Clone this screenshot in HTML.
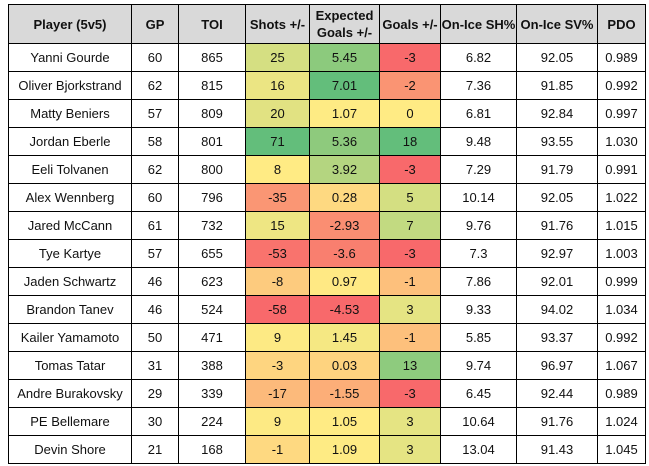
<!DOCTYPE html><html><head><style>
body{margin:0;background:#fff;font-family:"Liberation Sans",sans-serif;}
table{position:absolute;left:8px;top:4px;border-collapse:collapse;table-layout:fixed;}
td,th{border:1px solid #000;text-align:center;font-size:13px;color:#111;padding:0;height:27px;box-sizing:border-box;}
td{height:28px;}
th{background:#d9d9d9;font-weight:bold;height:39px;line-height:17px;}
</style></head><body>
<table id="t"><colgroup><col style="width:123px"><col style="width:47px"><col style="width:67px"><col style="width:64px"><col style="width:70px"><col style="width:61px"><col style="width:76px"><col style="width:81px"><col style="width:48px"></colgroup>
<tr><th>Player (5v5)</th><th>GP</th><th>TOI</th><th>Shots +/-</th><th>Expected<br>Goals +/-</th><th>Goals +/-</th><th>On-Ice SH%</th><th>On-Ice SV%</th><th>PDO</th></tr>
</table>
<script>
var d=[["Yanni Gourde",60,865,25,"5.45",-3,"6.82","92.05","0.989"],
["Oliver Bjorkstrand",62,815,16,"7.01",-2,"7.36","91.85","0.992"],
["Matty Beniers",57,809,20,"1.07",0,"6.81","92.84","0.997"],
["Jordan Eberle",58,801,71,"5.36",18,"9.48","93.55","1.030"],
["Eeli Tolvanen",62,800,8,"3.92",-3,"7.29","91.79","0.991"],
["Alex Wennberg",60,796,-35,"0.28",5,"10.14","92.05","1.022"],
["Jared McCann",61,732,15,"-2.93",7,"9.76","91.76","1.015"],
["Tye Kartye",57,655,-53,"-3.6",-3,"7.3","92.97","1.003"],
["Jaden Schwartz",46,623,-8,"0.97",-1,"7.86","92.01","0.999"],
["Brandon Tanev",46,524,-58,"-4.53",3,"9.33","94.02","1.034"],
["Kailer Yamamoto",50,471,9,"1.45",-1,"5.85","93.37","0.992"],
["Tomas Tatar",31,388,-3,"0.03",13,"9.74","96.97","1.067"],
["Andre Burakovsky",29,339,-17,"-1.55",-3,"6.45","92.44","0.989"],
["PE Bellemare",30,224,9,"1.05",3,"10.64","91.76","1.024"],
["Devin Shore",21,168,-1,"1.09",3,"13.04","91.43","1.045"]];
var R=[248,105,107],Y=[255,235,132],G=[99,190,123];
function mix(a,b,t){return "rgb("+a.map((v,i)=>Math.round(v+(b[i]-v)*t)).join(",")+")";}
function col(c){var v=d.map(r=>+r[c]),s=v.slice().sort((a,b)=>a-b),mn=s[0],mx=s[14],md=s[7];
return v.map(x=>x<=md?mix(R,Y,(x-mn)/(md-mn)):mix(Y,G,(x-md)/(mx-md)));}
var cs={3:col(3),4:col(4),5:col(5)};
var h="";d.forEach((r,i)=>{h+="<tr>";r.forEach((v,j)=>{h+="<td"+(cs[j]?" style='background:"+cs[j][i]+"'":"")+">"+v+"</td>";});h+="</tr>";});
document.getElementById("t").insertAdjacentHTML("beforeend",h);
</script></body></html>
